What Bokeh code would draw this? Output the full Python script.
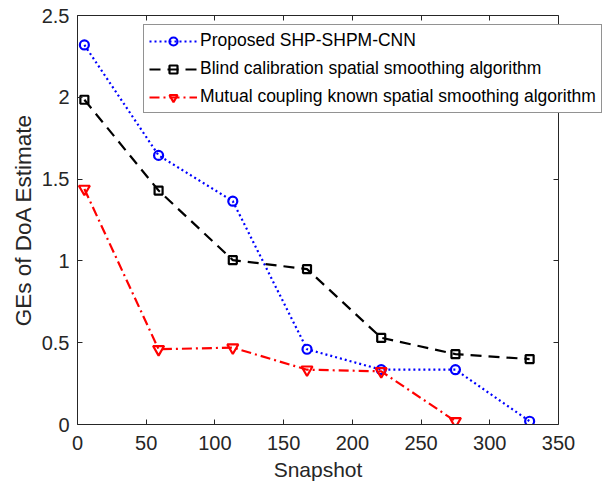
from bokeh.plotting import figure
from bokeh.models import Range1d, FixedTicker, NumeralTickFormatter, LinearAxis, Legend, LegendItem, Title
from bokeh.embed import file_html
from bokeh.resources import INLINE

snapshots = [5, 59, 113, 167, 221, 275, 329]
proposed = [2.32, 1.645, 1.365, 0.46, 0.335, 0.335, 0.02]
blind = [1.985, 1.43, 1.005, 0.95, 0.53, 0.43, 0.40]
snapshots_known = [5, 59, 113, 167, 221, 275]
known = [1.44, 0.46, 0.47, 0.335, 0.325, 0.02]

x_ticks = [0, 50, 100, 150, 200, 250, 300, 350]
y_ticks = [0, 0.5, 1, 1.5, 2, 2.5]
x_lim = (0, 350)
y_lim = (0, 2.5)
x_label = "Snapshot"
y_label = "GEs of DoA Estimate"

FONT = "Liberation Sans"
TXT = "#262626"

# The axes box spans pixels 77..558; the frame is widened to 603 so the legend
# (which sticks out of the box in the reference) is not clipped.
BOX_LEFT, BOX_RIGHT, FRAME_RIGHT = 77, 558, 603
x_end = x_lim[1] * (FRAME_RIGHT - BOX_LEFT) / (BOX_RIGHT - BOX_LEFT)

p = figure(width=607, height=489, output_backend="svg", toolbar_location=None,
           x_range=Range1d(x_lim[0], x_end), y_range=Range1d(*y_lim),
           min_border_left=BOX_LEFT, min_border_right=607 - FRAME_RIGHT,
           min_border_top=15, min_border_bottom=65)
p.xgrid.visible = False
p.ygrid.visible = False
p.outline_line_color = None
p.background_fill_color = "white"
p.border_fill_color = "white"

def style_axis(ax, ticks, show_labels=True):
    ax.ticker = FixedTicker(ticks=ticks)
    ax.formatter = NumeralTickFormatter(format="0.[0]")
    ax.major_tick_in = 5
    ax.major_tick_out = 0
    ax.minor_tick_line_color = None
    ax.axis_line_color = TXT
    ax.axis_line_width = 1
    ax.major_tick_line_color = TXT
    ax.major_label_text_font = FONT
    ax.major_label_text_color = TXT if show_labels else None
    ax.major_label_text_font_size = "20px" if show_labels else "1px"
    ax.axis_label_text_font = FONT
    ax.axis_label_text_color = TXT
    ax.axis_label_text_font_style = "normal"

xa = p.xaxis[0]
ya = p.yaxis[0]
style_axis(xa, x_ticks)
style_axis(ya, y_ticks)
xa.bounds = x_lim
ya.axis_label = y_label
ya.axis_label_text_font_size = "22.5px"
xa.major_label_standoff = 11
ya.major_label_standoff = 8
ya.axis_label_standoff = 3

# x label centred under the box (not under the widened frame)
label_px = 21
label_w = 88.7
box_center = (BOX_LEFT + BOX_RIGHT) / 2
xt = Title(text=x_label, align="left", offset=box_center - label_w / 2 - BOX_LEFT,
           text_font=FONT, text_font_size=f"{label_px}px", text_font_style="normal",
           text_color=TXT, standoff=10, vertical_align="top")
p.add_layout(xt, "below")

top_ax = LinearAxis(bounds=x_lim)
style_axis(top_ax, x_ticks, show_labels=False)
top_ax.major_label_standoff = 0
p.add_layout(top_ax, "above")

right_ax = LinearAxis(fixed_location=x_lim[1])
style_axis(right_ax, y_ticks, show_labels=False)
right_ax.major_label_standoff = 0
p.add_layout(right_ax, "right")

l1 = p.line(snapshots, proposed, line_color="#0000FF", line_width=2.2, line_dash="2 3")
m1 = p.scatter(snapshots, proposed, marker="circle", size=9, line_color="#0000FF",
               fill_color=None, line_width=2.2)
l2 = p.line(snapshots, blind, line_color="black", line_width=2.2, line_dash="11 7")
m2 = p.scatter(snapshots, blind, marker="square", size=8, line_color="black",
               fill_color=None, line_width=2.2)
l3 = p.line(snapshots_known, known, line_color="#FF0000", line_width=2.2, line_dash="10 4 2 4")
m3 = p.scatter(snapshots_known, known, marker="inverted_triangle", size=11, line_color="#FF0000",
               fill_color=None, line_width=2.2)

legend = Legend(items=[
    LegendItem(label="Proposed SHP-SHPM-CNN", renderers=[l1, m1]),
    LegendItem(label="Blind calibration spatial smoothing algorithm", renderers=[l2, m2]),
    LegendItem(label="Mutual coupling known spatial smoothing algorithm", renderers=[l3, m3]),
], location=(66, 311))
legend.label_text_font = FONT
legend.label_text_font_size = "17.5px"
legend.label_text_color = "black"
legend.glyph_width = 48
legend.glyph_height = 20
legend.label_height = 20
legend.spacing = 7
legend.padding = 5
legend.margin = 0
legend.label_standoff = 3
legend.border_line_color = TXT
legend.border_line_width = 1
legend.background_fill_color = "white"
legend.background_fill_alpha = 1
p.add_layout(legend, "center")

open("out.html", "w").write(file_html(p, INLINE))
